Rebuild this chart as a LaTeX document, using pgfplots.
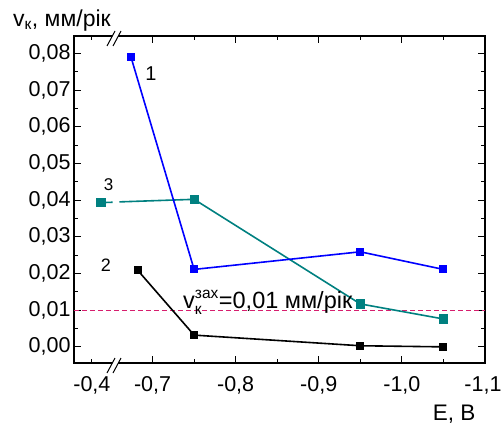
\documentclass[border=0pt]{standalone}
\usepackage{pgfplots}
\pgfplotsset{compat=1.18}
\usetikzlibrary{calc}
\usepackage{fontspec}
\setmainfont{Liberation Sans}
\definecolor{myblue}{RGB}{0,0,255}
\definecolor{myteal}{RGB}{0,128,128}
\definecolor{refc}{RGB}{215,30,110}
\newcommand\sm{\fontsize{15.5}{15.5}\selectfont}
\begin{document}
\begin{tikzpicture}
\path[use as bounding box] (-74pt,-61pt) rectangle (427pt,363pt);
\begin{axis}[
 scale only axis, width=411pt, height=327pt,
 xmin=0.6055, xmax=1.1, ymin=-0.0044, ymax=0.0847,
 xtick={0.7,0.8,0.9,1.0,1.1},
 xticklabels={{-0,7},{-0,8},{-0,9},{-1,0},{\hspace*{-4pt}-1,1}},
 extra x ticks={0.627}, extra x tick labels={-0{,}4},
 extra x tick style={major tick length=4pt},
 minor xtick={0.75,0.85,0.95,1.05},
 ytick={0,0.01,0.02,0.03,0.04,0.05,0.06,0.07,0.08},
 minor ytick={0.005,0.015,0.025,0.035,0.045,0.055,0.065,0.075},
 yticklabel style={/pgf/number format/.cd, fixed, fixed zerofill, precision=2, use comma, assume math mode=true},
 scaled y ticks=false,
 tick align=inside, major tick length=7pt, minor tick length=4pt,
 tick style={black, line width=0.9pt},
 axis line style={line width=1.2pt},
 ticklabel style={font=\fontsize{21.5}{25}\selectfont},
 xticklabel style={yshift=-10pt},
 clip=false,
]
\addplot[refc, line width=1pt, dash pattern=on 5pt off 3pt] coordinates {(0.6055,0.01)(1.1,0.01)};
\addplot[black, line width=1.6pt, mark=square*, mark size=3.2pt] coordinates {(0.682,0.0209)(0.75,0.0032)(0.95,0.0003)(1.05,0.0000)};
\addplot[myteal, line width=1.6pt, mark=square*, mark size=3.8pt, mark indices={2,3,4}] coordinates {(0.660,0.0395)(0.75,0.0402)(0.95,0.0117)(1.05,0.0076)};
\addplot[myteal, line width=1.6pt, mark=square*, mark size=3.8pt, mark indices={1}] coordinates {(0.638,0.0393)(0.652,0.0394)};
\addplot[myblue, line width=1.6pt, mark=square*, mark size=3.2pt] coordinates {(0.674,0.079)(0.75,0.0211)(0.95,0.0259)(1.05,0.0211)};
\end{axis}
% axis breaks
\foreach \yy in {0,327} {
  \fill[white] ($(41pt,\yy pt)+(-8pt,-10pt)$) -- ++(8pt,15pt) -- ++(6pt,0) -- ++(-8pt,-15pt) -- cycle;
  \draw[line width=1pt] ($(41pt,\yy pt)+(-8pt,-10pt)$) -- ++(8pt,15pt);
  \draw[line width=1pt] ($(41pt,\yy pt)+(-2pt,-10pt)$) -- ++(8pt,15pt);
}
\node[anchor=base, inner sep=0, font=\fontsize{20}{22}\selectfont] at (77pt,283pt) {1};
\node[anchor=base, inner sep=0, font=\fontsize{17}{20}\selectfont] at (34.7pt,172.3pt) {3};
\node[anchor=base, inner sep=0, font=\fontsize{18}{20}\selectfont] at (32pt,91.3pt) {2};
\node[anchor=base west, inner sep=0, font=\fontsize{23.5}{25}\selectfont] at (109pt,55pt) {v$_{\hbox{\sm к}}^{\hbox{\sm зах}}$=0,01 мм/рік};
\node[anchor=base west, inner sep=0, font=\fontsize{23}{25}\selectfont] at (-61pt,337pt) {v$_{\hbox{\sm к}}$, мм/рік};
\node[anchor=base west, inner sep=0, font=\fontsize{22.5}{25}\selectfont] at (358.7pt,-57pt) {E, B};
\end{tikzpicture}
\end{document}
